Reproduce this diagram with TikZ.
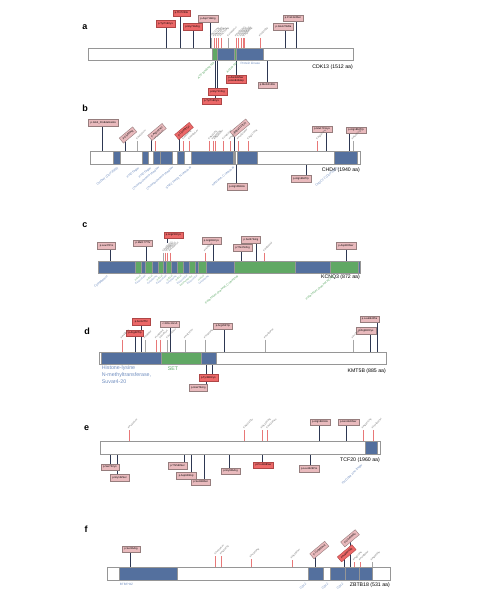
\documentclass[tikz,border=0pt]{standalone}
\usepackage{fontspec}
\setmainfont{Liberation Sans}
\pgfdeclarelayer{bg}
\pgfsetlayers{bg,main}
\definecolor{domb}{RGB}{84,112,158}
\definecolor{domg}{RGB}{96,168,100}
\definecolor{redf}{RGB}{236,104,104}
\definecolor{redb}{RGB}{175,70,70}
\definecolor{pinkf}{RGB}{233,186,189}
\definecolor{pinkb}{RGB}{150,125,125}
\definecolor{stemc}{RGB}{45,55,82}
\definecolor{lolr}{RGB}{232,120,120}
\definecolor{barc}{RGB}{150,150,150}
\definecolor{txb}{RGB}{110,140,190}
\definecolor{txg}{RGB}{95,170,105}
\tikzset{
 bar/.style={draw=barc, fill=white, line width=0.4pt},
 db/.style={fill=domb, draw=barc, line width=0.3pt},
 dg/.style={fill=domg, draw=barc, line width=0.3pt},
 mbox/.style={line width=0.4pt, font=\fontsize{2.6}{3.0}\selectfont, inner xsep=2.2pt, inner ysep=1.2pt, minimum height=6.5pt},
 mr/.style={mbox, draw=redb, fill=redf},
 mp/.style={mbox, draw=pinkb, fill=pinkf},
 stem/.style={draw=stemc, line width=0.8pt},
 lol/.style={font=\fontsize{2.2}{2.4}\selectfont, inner sep=0.3pt, text=black!65},
 lr/.style={draw=lolr, line width=0.4pt},
 lg/.style={draw=black!35, line width=0.4pt},
 dl/.style={font=\fontsize{3.1}{3.4}\selectfont, inner sep=0.3pt},
 dls/.style={font=\fontsize{2.4}{2.6}\selectfont, inner sep=0.2pt},
 dtx/.style={font=\fontsize{5.3}{7}\selectfont, inner sep=0pt},
 ttl/.style={font=\fontsize{5.2}{6}\selectfont, anchor=east, inner sep=0pt},
 pl/.style={font=\bfseries\fontsize{9}{9}\selectfont, inner sep=0pt},
}
% name, style, cx, cy, stem x, bar y, text
\newcommand\boxup[7]{%
 \node[#2] (#1) at (#3,#4) {#7};
 \coordinate (#1e) at (#5,#6);
 \begin{pgfonlayer}{bg}\draw[stem] (#1e) -- (#1e |- #1.center);\end{pgfonlayer}}
% name, x, bar y, height, line style, text
\newcommand\lol[6]{%
 \coordinate (#1e) at (#2,#3);
 \node[lol, anchor=south west, rotate=45] (#1) at (#2,#3-#4) {#6};
 \draw[#5] (#1.south west) -- (#1e);}
% name, x, y, colour, text, angle
\newcommand\dlab[6]{%
 \node[dl, text=#4, anchor=north east, rotate=#6] (#1) at (#2,#3) {#5};}
\newcommand\dlabs[6]{%
 \node[dls, text=#4, anchor=north east, rotate=#6] (#1) at (#2,#3) {#5};}
\begin{document}
\begin{tikzpicture}[x=1pt,y=-1pt]
\useasboundingbox (0,0) rectangle (477,593);

%%%%%%%%%%%%%%%% a
\node[pl] (pa) at (85,27) {a};
\draw[bar] (88,48) rectangle (353,60);
\draw[db] (211.7,48) rectangle (262.7,60);
\draw[dg] (211.7,48) rectangle (216.7,60);
\draw[dg] (234.3,48) rectangle (236,60);
\node[ttl] (ta) at (353,66.7) {CDK13 (1512 aa)};
\boxup{a1}{mr}{181.5}{13}{180}{48}{p.Thr722Ile}
\boxup{a2}{mr}{165.5}{23.5}{166.7}{48}{p.Tyr716Cys}
\boxup{a3}{mr}{192.5}{26.5}{193.3}{48}{p.Gly714Arg}
\boxup{a4}{mp}{208}{18.5}{210}{48}{p.Asp718Arg}
\boxup{a5}{mp}{293}{18}{296}{48}{p.Pro1324Ser}
\boxup{a6}{mp}{283.5}{26.5}{285.7}{48}{p.Glu1278Ala}
\lol{la1}{211}{48}{10}{lg}{p.Gly711Arg}
\lol{la2}{214}{48}{10}{lr}{p.Gly714Ser}
\lol{la3}{216}{48}{10}{lr}{p.Tyr716Cys}
\lol{la4}{218.3}{48}{10}{lr}{p.Gly717Arg}
\lol{la5}{220.7}{48}{10}{lr}{p.Lys734Arg}
\lol{la6}{228.3}{48}{10}{lg}{p.Leu786Pro}
\lol{la7}{236}{48}{10}{lr}{p.Asp837Asn}
\lol{la8}{238.3}{48}{10}{lr}{p.Asn842Ser}
\lol{la9}{240.7}{48}{10}{lr}{p.Asn842Asp}
\lol{la10}{242.7}{48}{10}{lr}{p.Asp852Gly}
\lol{la11}{244.3}{48}{10}{lr}{p.Arg860Gln}
\lol{la12}{260}{48}{10}{lr}{p.Val1003Ile}
\dlab{da1}{213}{61}{txg}{ATP binding site}{45}
\dlab{da2}{236}{61}{txg}{Active site}{45}
\node[dl, text=txb, anchor=west] (da3) at (240,63.5) {Protein kinase};
\boxup{a7}{mr}{217.5}{91.5}{217.7}{60}{p.Gly717Arg}
\boxup{a8}{mr}{211.5}{101}{215}{60}{p.Tyr716Cys}
\boxup{a9}{mr, align=center}{236}{79.5}{236}{60}{p.Asn842Ser\\p.Asn842Asp}
\boxup{a10}{mp}{267.5}{85}{267.3}{60}{p.Met1012Ile}

%%%%%%%%%%%%%%%% b
\node[pl] (pb) at (85,108) {b};
\draw[bar] (90,151) rectangle (360,164);
\foreach \s/\e in {112.7/120,141.7/147.7,152.7/160,160/171.7,176.7/184,191/233.3,234/235.3,236.7/256.7,334/356.7}
  \draw[db] (\s,151) rectangle (\e,164);
\node[ttl] (tb) at (360,170.5) {CHD4 (1940 aa)};
\boxup{b1}{mp}{103.3}{122.5}{102.7}{151}{p.Gln4\_Pro8delinsHis}
\boxup{b2}{mp, rotate=40}{128}{135}{125}{151}{p.Gly83Arg}
\boxup{b3}{mp, rotate=40}{157}{132}{151.7}{151}{p.Arg142His}
\boxup{b4}{mr, rotate=40}{184}{131}{179}{151}{p.Cys467Tyr}
\boxup{b5}{mp, rotate=40}{240}{128}{234}{151}{p.Arg1127Gln}
\boxup{b6}{mp}{322}{129}{326.7}{151}{p.Glu1715Lys}
\boxup{b7}{mp}{356}{130}{349.3}{151}{p.Arg1862Trp}
\lol{lb1}{137.3}{151}{10}{lg}{p.Ser224Leu}
\lol{lb2}{155}{151}{10}{lr}{p.Pro352Leu}
\lol{lb3}{183.3}{151}{10}{lr}{p.Val558Phe}
\lol{lb4}{189.3}{151}{10}{lr}{p.Phe606Leu}
\lol{lb5}{209.3}{151}{10}{lr}{p.His818Tyr}
\lol{lb6}{212.7}{151}{10}{lr}{p.Arg848Trp}
\lol{lb7}{215}{151}{10}{lr}{p.Gly866Ser}
\lol{lb8}{223.3}{151}{10}{lr}{p.Leu912Val}
\lol{lb9}{230}{151}{10}{lr}{p.Arg975His}
\lol{lb10}{238}{151}{10}{lr}{p.Asp1078Gly}
\lol{lb11}{248.3}{151}{10}{lr}{p.Arg1173Cys}
\lol{lb12}{317.3}{151}{10}{lr}{p.Arg1673His}
\lol{lb13}{352.7}{151}{10}{lg}{p.Ala1872Val}
\dlab{db1}{117}{166}{txb}{CHDNT (DUF3586)}{40}
\dlab{db2}{138}{166}{txb}{PHD finger}{40}
\dlab{db3}{150}{166}{txb}{PHD finger}{40}
\dlab{db4}{158}{166}{txb}{Chromo/chromo shadow}{40}
\dlab{db5}{172}{166}{txb}{Chromo/chromo shadow}{40}
\dlab{db6}{190}{166}{txb}{SNF2 family N-terminal}{40}
\dlab{db7}{233}{166}{txb}{Helicase, C-terminal}{40}
\dlab{db8}{337}{166}{txb}{CHDCT2 (DUF1087)}{40}
\boxup{b8}{mp}{237}{186.5}{236.7}{164}{p.Arg1068His}
\boxup{b9}{mp}{301}{178.5}{306}{164}{p.Arg1666Trp}

%%%%%%%%%%%%%%%% c
\node[pl] (pc) at (85,225) {c};
\draw[db] (98.3,260.7) rectangle (360,272.7);
\foreach \s/\e in {135/141,145/151.7,158.3/163.3,166/170.7,176.7/183.3,189.3/195,198.3/206,234/295,330/358.3}
  \draw[dg] (\s,260.7) rectangle (\e,272.7);
\node[ttl] (tc) at (360,277) {KCNQ3 (872 aa)};
\boxup{c1}{mp}{106.5}{245.5}{110}{260.7}{p.Leu37Pro}
\boxup{c2}{mp}{143}{243}{146.7}{260.7}{p.Met177Thr}
\boxup{c3}{mr}{173.5}{235}{167}{243}{p.Arg230Cys}
\boxup{c4}{mp}{211.5}{240.5}{213.3}{260.7}{p.Arg364Cys}
\boxup{c5}{mp}{251}{239.5}{256.7}{260.7}{p.Ser572Arg}
\boxup{c6}{mp}{242.5}{247.5}{241.7}{260.7}{p.Thr472Arg}
\boxup{c7}{mp}{346}{245.5}{346}{260.7}{p.Asp800Ser}
\lol{lc1}{163.5}{260.7}{8}{lg}{p.Arg227Gln}
\lol{lc2}{165.5}{260.7}{8}{lr}{p.Arg230His}
\lol{lc3}{167.3}{260.7}{8}{lr}{p.Arg230Cys}
\lol{lc4}{170}{260.7}{8}{lr}{p.Arg236Cys}
\lol{lc5}{205}{260.7}{8}{lr}{p.Ile360Val}
\lol{lc6}{264.3}{260.7}{8}{lr}{p.Ala594Val}
\dlab{dc0}{106.7}{274.5}{txb}{Cytoplasmic}{40}
\dlabs{dc1}{140}{274.5}{txg}{Helical}{40}
\dlabs{dc2}{145}{274.5}{txb}{Extracellular}{40}
\dlabs{dc3}{151.7}{274.5}{txg}{Helical}{40}
\dlabs{dc4}{156.7}{274.5}{txb}{Cytoplasmic}{40}
\dlabs{dc5}{161.7}{274.5}{txg}{Helical}{40}
\dlabs{dc6}{166}{274.5}{txb}{Extracellular}{40}
\dlabs{dc7}{171.7}{274.5}{txg}{Helical}{40}
\dlabs{dc8}{176}{274.5}{txb}{Cytoplasmic}{40}
\dlabs{dc9}{180.7}{274.5}{txg}{Helical}{40}
\dlabs{dc10}{186.7}{274.5}{txb}{Extracellular}{40}
\dlabs{dc11}{191.7}{274.5}{txg}{Intramembrane}{40}
\dlabs{dc12}{196.7}{274.5}{txb}{Extracellular}{40}
\dlabs{dc13}{203.3}{274.5}{txg}{Helical}{40}
\dlabs{dc14}{208.3}{274.5}{txb}{Cytoplasmic}{40}
\dlab{dc15}{237}{274.5}{txg}{Potassium channel, C-terminal}{40}
\dlab{dc16}{333}{274.5}{txg}{Potassium channel KCNQ}{40}

%%%%%%%%%%%%%%%% d
\node[pl] (pd) at (87,331.7) {d};
\draw[bar] (99.3,351.7) rectangle (386,364.5);
\draw[db] (100.7,351.7) rectangle (161,364.5);
\draw[dg] (161,351.7) rectangle (200.7,364.5);
\draw[db] (200.7,351.7) rectangle (215.7,364.5);
\node[dtx, text=txb, anchor=north west, align=left] (dd1) at (101.7,365.8) {Histone-lysine\\N-methyltransferase,\\Suvar4-20};
\node[dtx, text=txg] (dd2) at (173,368.3) {SET};
\node[ttl] (td) at (386,371) {KMT5B (885 aa)};
\boxup{d1}{mr}{141.3}{321.7}{141.7}{351.7}{p.Ser12Thr}
\boxup{d2}{mr}{135}{333}{135}{351.7}{p.Arg43Trp}
\boxup{d3}{mp}{170}{324}{170.7}{351.7}{c.345+1G>A}
\boxup{d4}{mp}{223}{326.3}{224}{351.7}{p.Arg294Trp}
\boxup{d5}{mp}{369.7}{319}{377.7}{351.7}{p.Leu864Phe}
\boxup{d6}{mp}{366}{330.5}{370.7}{351.7}{p.Arg840Cys}
\lol{ld1}{121.7}{351.7}{12}{lr}{p.Arg29Gln}
\lol{ld2}{145}{351.7}{12}{lg}{p.Val69Ile}
\lol{ld3}{156}{351.7}{12}{lr}{p.Lys95Arg}
\lol{ld4}{160.5}{351.7}{12}{lr}{p.Glu97Lys}
\lol{ld5}{167.3}{351.7}{12}{lg}{p.Asp110Asn}
\lol{ld6}{185}{351.7}{12}{lg}{p.Ala178Thr}
\lol{ld7}{205}{351.7}{12}{lg}{p.Thr265Ala}
\lol{ld8}{265}{351.7}{12}{lg}{p.Ser450Phe}
\lol{ld9}{352.7}{351.7}{12}{lg}{p.Pro782Leu}
\boxup{d7}{mr}{208.3}{377.5}{212.7}{364.5}{p.Tyr280Cys}
\boxup{d8}{mp}{198.3}{387.5}{206}{364.5}{p.His275Arg}

%%%%%%%%%%%%%%%% e
\node[pl] (pe) at (86.7,428.3) {e};
\draw[bar] (100,441) rectangle (380,454.3);
\draw[db] (365,441) rectangle (376.7,454.3);
\node[ttl] (te) at (380,460) {TCF20 (1960 aa)};
\dlab{de1}{361}{463}{txb}{PHD-like zinc-finger}{45}
\boxup{e1}{mp}{320}{422}{319.3}{441}{p.Arg1840His}
\boxup{e2}{mp}{348.3}{422}{346.7}{441}{p.Asn1843Ser}
\lol{le1}{129}{441}{11}{lr}{p.Pro204Leu}
\lol{le2}{244.3}{441}{11}{lr}{p.Ala1015Thr}
\lol{le3}{261.7}{441}{11}{lr}{p.Gly1150Arg}
\lol{le4}{267.3}{441}{11}{lr}{p.Ser1184Leu}
\lol{le5}{362.7}{441}{11}{lr}{p.Arg1872Trp}
\lol{le6}{372.7}{441}{11}{lr}{p.Cys1905Tyr}
\boxup{e3}{mp}{110}{467.3}{110.7}{454.3}{p.Ser74Cys}
\boxup{e4}{mp}{119.5}{477.5}{117.3}{454.3}{p.Gly122Ser}
\boxup{e5}{mp}{177.5}{465.8}{184.3}{454.3}{p.Thr563Ser}
\boxup{e6}{mp}{186.2}{475.5}{191.7}{454.3}{p.Asp609Gly}
\boxup{e7}{mp}{200.7}{482.2}{204}{454.3}{p.Ser686Ser}
\boxup{e8}{mp}{230.5}{471.2}{229.3}{454.3}{p.Gly906Arg}
\boxup{e9}{mr}{263.5}{465}{262.7}{454.3}{p.Pro1168Ser}
\boxup{e10}{mp}{309.2}{468.8}{310}{454.3}{p.Leu1526Pro}

%%%%%%%%%%%%%%%% f
\node[pl] (pf) at (86,529.3) {f};
\draw[bar] (107.3,567) rectangle (390,580.3);
\foreach \s/\e in {119.3/176.7,308.3/322.7,330/345,345/359.3,359.3/371.7}
  \draw[db] (\s,567) rectangle (\e,580.3);
\node[dl, text=txb, anchor=west] (df1) at (119.3,584.5) {BTB/POZ};
\node[ttl] (tf) at (390,585) {ZBTB18 (531 aa)};
\dlab{df2}{305}{582}{txb}{C2H2}{45}
\dlab{df3}{327}{582}{txb}{C2H2}{45}
\dlab{df4}{342}{582}{txb}{C2H2}{45}
\boxup{f1}{mp}{131}{549}{130.7}{567}{p.Ser36Arg}
\boxup{f2}{mp, rotate=40}{319.3}{550}{315}{567}{p.Cys385Arg}
\boxup{f3}{mp, rotate=40}{350}{538.3}{350.7}{567}{p.Gln460Glu}
\boxup{f4}{mr, rotate=40}{346.7}{553.3}{344.3}{567}{p.Arg447Gln}
\lol{lf1}{215.5}{567}{11}{lr}{p.Ser204Leu}
\lol{lf2}{221}{567}{11}{lr}{p.Ala209Thr}
\lol{lf3}{250.7}{567}{8}{lr}{p.Pro265Arg}
\lol{lf4}{291.7}{567}{7}{lr}{p.Gly338Ser}
\lol{lf5}{354}{567}{5}{lr}{p.Arg473His}
\lol{lf6}{360}{567}{5}{lr}{p.Asn488Ser}
\lol{lf7}{371.7}{567}{5}{lg}{p.Arg495Gly}
\end{tikzpicture}
\end{document}
